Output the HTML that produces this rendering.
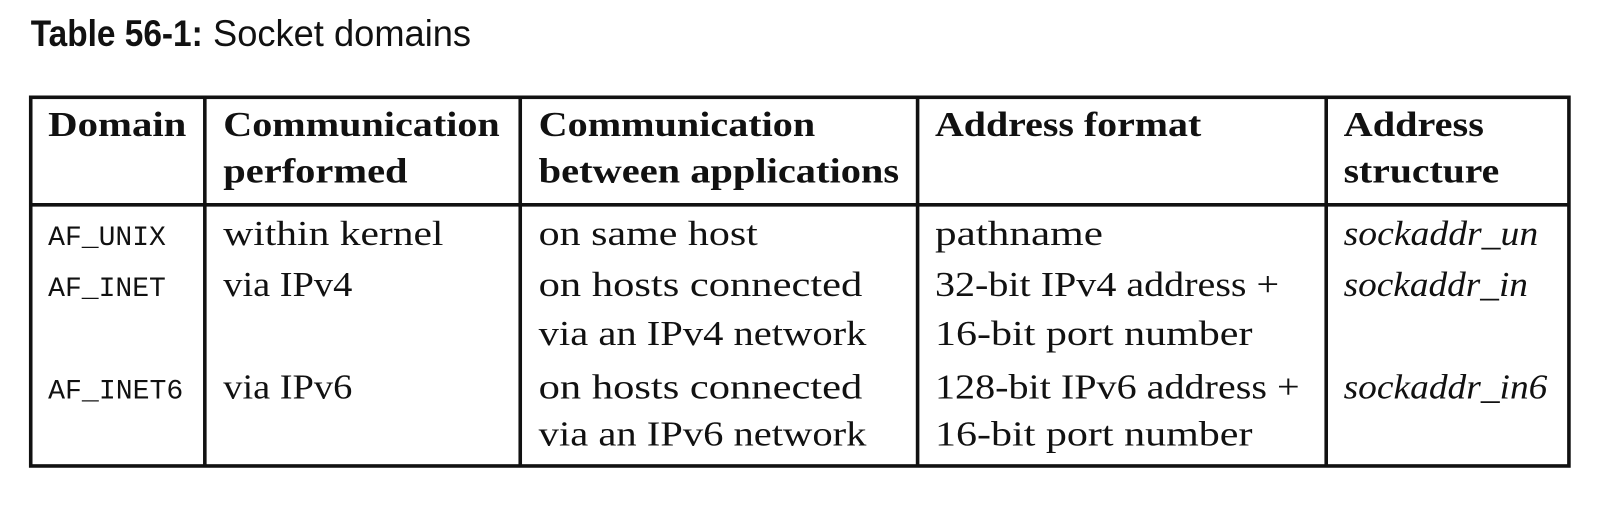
<!DOCTYPE html>
<html><head><meta charset="utf-8"><style>
html,body{margin:0;padding:0;background:#fff;}
svg{display:block}
.s{font-family:"Liberation Serif",serif;font-size:34px;fill:#111}
.b{font-weight:bold}
.i{font-style:italic}
.m{font-family:"Liberation Mono",monospace;font-size:27px;fill:#111}
.t{font-family:"Liberation Sans",sans-serif;font-size:36px;fill:#111}
</style></head><body>
<svg width="1606" height="508" viewBox="0 0 1606 508" xmlns="http://www.w3.org/2000/svg">
<g transform="scale(1.0241)">
<text class="t" x="30" y="45"><tspan font-weight="bold" textLength="168" lengthAdjust="spacingAndGlyphs">Table 56-1:</tspan></text>
<text class="t" x="208" y="45" textLength="252" lengthAdjust="spacingAndGlyphs">Socket domains</text>
<g stroke="#111" stroke-width="3.5" fill="none">
<rect x="30" y="95" width="1502" height="360"/>
<line x1="30" y1="200" x2="1532" y2="200"/>
<line x1="200" y1="95" x2="200" y2="455"/>
<line x1="508" y1="95" x2="508" y2="455"/>
<line x1="896" y1="95" x2="896" y2="455"/>
<line x1="1295" y1="95" x2="1295" y2="455"/>
</g>
<g class="s b">
<text x="47" y="133" textLength="135" lengthAdjust="spacingAndGlyphs">Domain</text>
<text x="218" y="133" textLength="270" lengthAdjust="spacingAndGlyphs">Communication</text>
<text x="218" y="178" textLength="180" lengthAdjust="spacingAndGlyphs">performed</text>
<text x="526" y="133" textLength="270" lengthAdjust="spacingAndGlyphs">Communication</text>
<text x="526" y="178" textLength="352" lengthAdjust="spacingAndGlyphs">between applications</text>
<text x="913" y="133" textLength="260" lengthAdjust="spacingAndGlyphs">Address format</text>
<text x="1312" y="133" textLength="137" lengthAdjust="spacingAndGlyphs">Address</text>
<text x="1312" y="178" textLength="152" lengthAdjust="spacingAndGlyphs">structure</text>
</g>
<g class="m">
<text x="47" y="239" textLength="115" lengthAdjust="spacingAndGlyphs">AF_UNIX</text>
<text x="47" y="289" textLength="115" lengthAdjust="spacingAndGlyphs">AF_INET</text>
<text x="47" y="389" textLength="132" lengthAdjust="spacingAndGlyphs">AF_INET6</text>
</g>
<g class="s">
<text x="218" y="239" textLength="215" lengthAdjust="spacingAndGlyphs">within kernel</text>
<text x="218" y="289" textLength="126" lengthAdjust="spacingAndGlyphs">via IPv4</text>
<text x="218" y="389" textLength="126" lengthAdjust="spacingAndGlyphs">via IPv6</text>
<text x="526" y="239" textLength="214" lengthAdjust="spacingAndGlyphs">on same host</text>
<text x="526" y="289" textLength="316" lengthAdjust="spacingAndGlyphs">on hosts connected</text>
<text x="526" y="337" textLength="320" lengthAdjust="spacingAndGlyphs">via an IPv4 network</text>
<text x="526" y="389" textLength="316" lengthAdjust="spacingAndGlyphs">on hosts connected</text>
<text x="526" y="435" textLength="320" lengthAdjust="spacingAndGlyphs">via an IPv6 network</text>
<text x="913" y="239" textLength="164" lengthAdjust="spacingAndGlyphs">pathname</text>
<text x="913" y="289" textLength="336" lengthAdjust="spacingAndGlyphs">32-bit IPv4 address +</text>
<text x="913" y="337" textLength="310" lengthAdjust="spacingAndGlyphs">16-bit port number</text>
<text x="913" y="389" textLength="356" lengthAdjust="spacingAndGlyphs">128-bit IPv6 address +</text>
<text x="913" y="435" textLength="310" lengthAdjust="spacingAndGlyphs">16-bit port number</text>
</g>
<g class="s i">
<text x="1312" y="239" textLength="190" lengthAdjust="spacingAndGlyphs">sockaddr_un</text>
<text x="1312" y="289" textLength="180" lengthAdjust="spacingAndGlyphs">sockaddr_in</text>
<text x="1312" y="389" textLength="199" lengthAdjust="spacingAndGlyphs">sockaddr_in6</text>
</g>
</g>
</svg>
</body></html>
